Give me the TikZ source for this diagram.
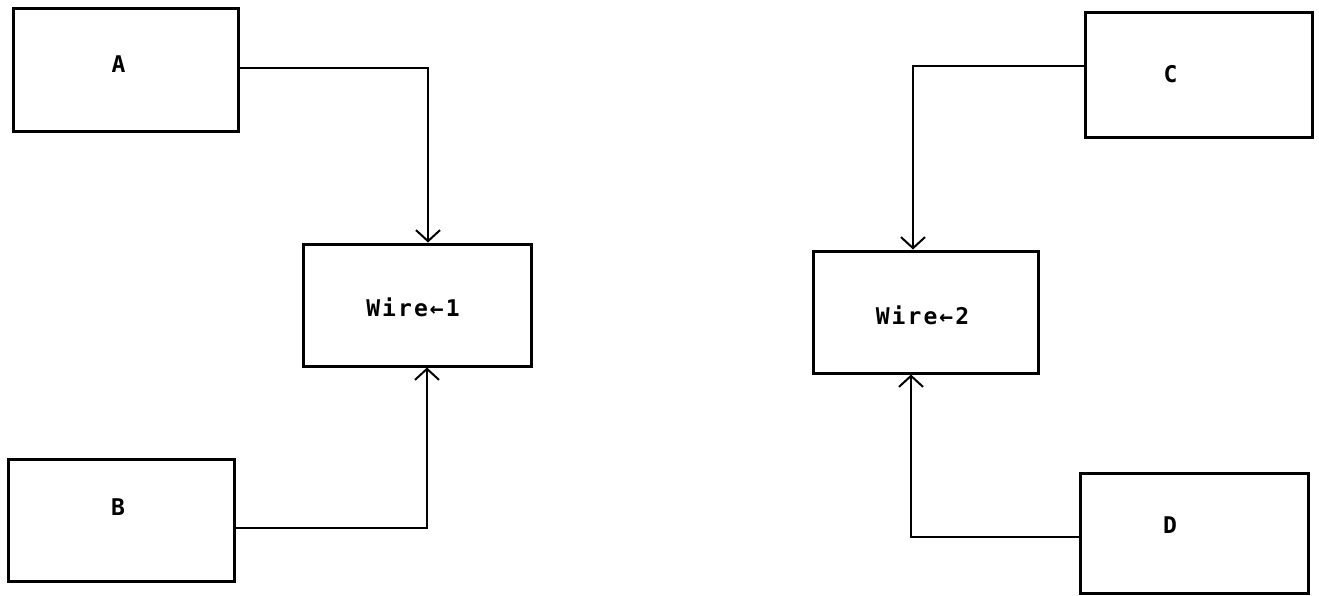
\documentclass[tikz,border=0pt]{standalone}
\usepackage{fontspec}
\setmonofont[LetterSpace=9]{DejaVu Sans Mono}
\usetikzlibrary{arrows.meta}
\tikzset{
  blk/.style={draw=black,line width=3pt,rectangle,minimum width=#1,minimum height=122pt,inner sep=0pt},
  blk/.default=226pt,
  txt/.style={font=\ttfamily\bfseries\fontsize{23}{27}\selectfont},
  wire/.style={draw=black,line width=2.8pt,-{Straight Barb[length=11pt,width=24pt,line width=2pt]}},
}
\begin{document}
\begin{tikzpicture}[x=1pt,y=-1pt]
\useasboundingbox[fill=white] (0,0) rectangle (1319,595);
\node[blk=225pt,minimum height=123pt,label={[txt,xshift=-7pt,yshift=5pt]center:A}] (A) at (125.5,69.5) {};
\node[blk=226pt,label={[txt,xshift=-3pt,yshift=13pt]center:B}] (B) at (121,520) {};
\node[blk=228pt,label={[txt,xshift=-4pt,yshift=-2pt]center:Wire←1}] (W1) at (417,305) {};
\node[blk=227pt,minimum height=125pt,label={[txt,xshift=-28pt,yshift=0pt]center:C}] (C) at (1198.5,74.5) {};
\node[blk=225pt,label={[txt,xshift=-3pt,yshift=-3pt]center:Wire←2}] (W2) at (925.5,312) {};
\node[blk=228pt,minimum height=120pt,label={[txt,xshift=-24pt,yshift=8pt]center:D}] (D) at (1194,533) {};
\draw[wire] ([yshift=1.5pt]A.east) -| ([xshift=11pt]W1.north);
\draw[wire] ([yshift=-8pt]B.east) -| ([xshift=10pt]W1.south);
\draw[wire] ([yshift=8.5pt]C.west) -| ([xshift=-12.5pt]W2.north);
\draw[wire] ([yshift=-4pt]D.west) -| ([xshift=-14.5pt]W2.south);
\end{tikzpicture}
\end{document}
